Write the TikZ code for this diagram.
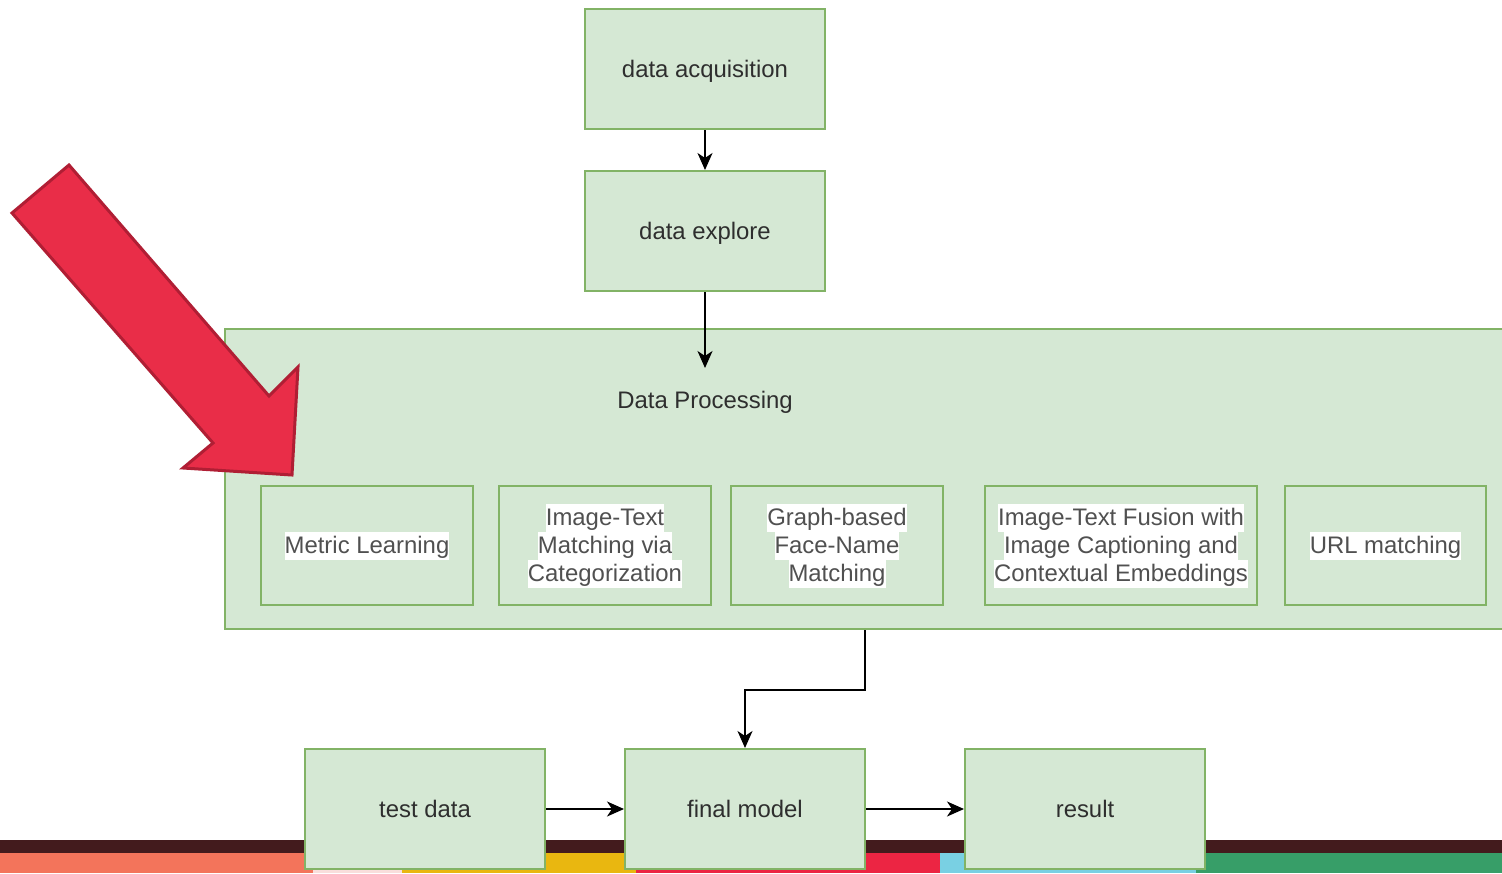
\documentclass[tikz,border=0pt]{standalone}
\usepackage{fontspec}
\setmainfont{Liberation Sans}
\usetikzlibrary{arrows.meta,calc}

\definecolor{boxfill}{HTML}{D5E8D4}
\definecolor{boxline}{HTML}{82B366}
\definecolor{labeldark}{HTML}{2E2E2E}
\definecolor{labelgray}{HTML}{505050}
\definecolor{bandbrown}{HTML}{431B1D}
\definecolor{bandsalmon}{HTML}{F3745B}
\definecolor{bandpink}{HTML}{F9DEDC}
\definecolor{bandyellow}{HTML}{E9B710}
\definecolor{bandred}{HTML}{EC2543}
\definecolor{bandblue}{HTML}{79D0E3}
\definecolor{bandgreen}{HTML}{379E68}
\definecolor{pointerfill}{HTML}{E92D48}
\definecolor{pointerline}{HTML}{B01E34}

% white highlight behind one line of text
\newcommand{\hlline}[1]{{\setlength{\fboxsep}{0pt}\colorbox{white}{\rule[-3.25pt]{0pt}{14pt}#1}}}

\tikzset{
  stage/.style={draw=boxline, fill=boxfill, line width=1pt, minimum width=120pt,
    minimum height=60pt, inner sep=0pt, text=labeldark, align=center,
    text height=8.7pt, text depth=0pt,
    font=\fontsize{11.95}{14}\selectfont},
  method/.style={draw=boxline, fill=boxfill, line width=1pt, minimum height=59.5pt,
    inner sep=0pt, text=labelgray, align=center,
    font=\fontsize{11.95}{14}\selectfont},
  flow/.style={line width=1pt, -{Stealth[length=8.5pt,width=7.5pt,inset=2.5pt]}},
}

\begin{document}
\begin{tikzpicture}[x=0.5pt, y=-0.5pt]
\useasboundingbox (0,0) rectangle (1502,873);

% coloured bands along the bottom
\fill[bandbrown] (0,840) rectangle (1502,853);
\fill[bandsalmon] (0,853) rectangle (313,873);
\fill[bandpink] (313,853) rectangle (402,873);
\fill[bandyellow] (402,853) rectangle (636,873);
\fill[bandred] (636,853) rectangle (940,873);
\fill[bandblue] (940,853) rectangle (1196,873);
\fill[bandgreen] (1196,853) rectangle (1502,873);

% processing container
\node[draw=boxline, fill=boxfill, line width=1pt, minimum width=640pt,
  minimum height=150pt, inner sep=0pt] (proc) at (865,479) {};
\node[text=labeldark, inner sep=0pt, text height=8.5pt, text depth=0pt,
  font=\fontsize{11.95}{14}\selectfont] (proclabel) at (705,400) {Data Processing};

% pipeline stages
\node[stage] (acq) at (705,69) {data acquisition};
\node[stage] (explore) at (705,231) {data explore};
\node[stage] (test) at (425,809) {test data};
\node[stage] (final) at (745,809) {final model};
\node[stage] (result) at (1085,809) {result};

% methods inside the container
\node[method, minimum width=106pt] (metric) at (367,545.5) {\hlline{Metric Learning}};
\node[method, minimum width=106pt] (imgtext) at (605,545.5) {\hlline{Image-Text}\\\hlline{Matching via}\\\hlline{Categorization}};
\node[method, minimum width=106pt] (graph) at (837,545.5) {\hlline{Graph-based}\\\hlline{Face-Name}\\\hlline{Matching}};
\node[method, minimum width=136pt] (fusion) at (1121,545.5) {\hlline{Image-Text Fusion with}\\\hlline{Image Captioning and}\\\hlline{Contextual Embeddings}};
\node[method, minimum width=100.5pt] (url) at (1385.5,545.5) {\hlline{URL matching}};

% connectors
\coordinate (procin) at (705,368);
\draw[flow] (acq.south) -- (explore.north);
\draw[flow] (explore.south) -- (procin);
\draw[flow] (proc.south) -- ++(0,60) -| (final.north);
\draw[flow] (test.east) -- (final.west);
\draw[flow] (final.east) -- (result.west);

% red pointer arrow
\draw[fill=pointerfill, draw=pointerline, line width=1.5pt, line join=miter]
  (69,165) -- (12,213) -- (213,443) -- (183,468) -- (292,475) -- (298,367) -- (269,396) -- cycle;
\end{tikzpicture}
\end{document}
